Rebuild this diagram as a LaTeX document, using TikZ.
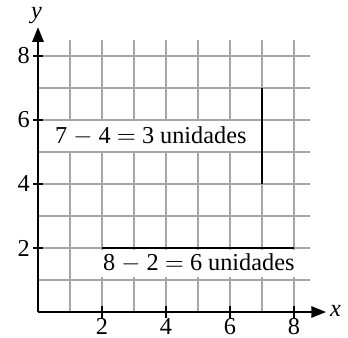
\documentclass[tikz,border=0pt]{standalone}
\usepackage{fontspec}
\setmainfont{Liberation Serif}
\usetikzlibrary{arrows.meta}
\begin{document}
\begin{tikzpicture}[x=0.5cm,y=0.5cm,
  gridline/.style={draw=black!35,line width=0.5pt},
  axisline/.style={line width=0.9pt,-{Triangle[length=6.5pt,width=5pt]}},
  tickmark/.style={line width=0.9pt},
  seg/.style={line width=1.1pt},
  lbl/.style={font=\fontsize{10.8}{13}\selectfont,inner sep=0pt},
  boxlbl/.style={font=\fontsize{10.8}{13}\selectfont,fill=white,inner sep=1pt}]
\useasboundingbox (-1.1875,-0.78125) rectangle (9.6875,9.75);
% grid
\foreach \i in {1,...,8} {
  \draw[gridline] (\i,0) -- (\i,8.5);
  \draw[gridline] (0,\i) -- (8.5,\i);
}
% white label boxes
\node[boxlbl,minimum height=0.5cm-0.6pt,anchor=west] (t1) at (0.45,5.5) {7 $-$ 4 $=$ 3 unidades};
\node[boxlbl,minimum height=0.42cm,anchor=north west] (t2) at (1.95,1.96) {8 $-$ 2 $=$ 6 unidades};
% axes
\coordinate (O) at (0,0);
\coordinate (xe) at (9,0);
\coordinate (ye) at (0,8.9);
\draw[axisline] (O) -- (xe);
\draw[axisline] (O) -- (ye);
\node[lbl,font=\fontsize{10.8}{13}\selectfont\itshape] (xl) at (9.3,0.02) {x};
\node[lbl,font=\fontsize{10.8}{13}\selectfont\itshape] (yl) at (-0.05,9.25) {y};
% ticks and labels
\foreach \v in {2,4,6,8} {
  \draw[tickmark] (\v,-0.19) -- (\v,0.19);
  \draw[tickmark] (-0.17,\v) -- (0.17,\v);
  \node[lbl] (xt\v) at (\v,-0.44) {\v};
  \node[lbl] (yt\v) at (-0.45,\v) {\v};
}
% segments
\coordinate (a1) at (7,4);
\coordinate (a2) at (7,7);
\coordinate (b1) at (2,2);
\coordinate (b2) at (8,2);
\draw[seg] (a1) -- (a2);
\draw[seg] (b1) -- (b2);
\end{tikzpicture}
\end{document}
